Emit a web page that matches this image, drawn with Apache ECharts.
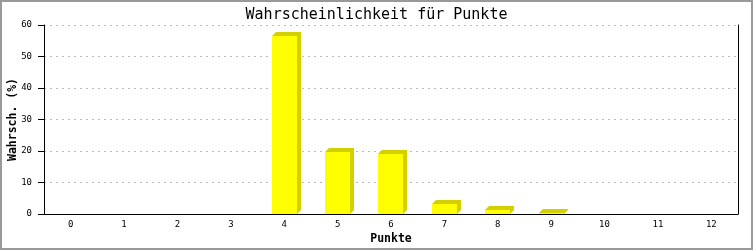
<!DOCTYPE html>
<html>
<head>
<meta charset="utf-8">
<script src="https://cdn.jsdelivr.net/npm/echarts@6/dist/echarts.min.js"></script>
<style>
html,body{margin:0;padding:0;background:#fff;}
#c{width:753px;height:250px;}
</style>
</head>
<body>
<div id="c"></div>
<script>
var categories = ['0','1','2','3','4','5','6','7','8','9','10','11','12'];
var values = [0, 0, 0, 0, 56.6, 19.7, 19.1, 3.2, 1.3, 0.3, 0, 0, 0];
var yTicks = [0, 10, 20, 30, 40, 50, 60];
var titleText = 'Wahrscheinlichkeit für Punkte';
var xName = 'Punkte';
var yName = 'Wahrsch. (%)';

var mono = 'DejaVu Sans Mono';
var chart = echarts.init(document.getElementById('c'), null, {renderer: 'canvas'});

function renderBar(params, api) {
  var idx = api.value(0);
  var val = api.value(1);
  var top = api.coord([idx, val]);
  var base = api.coord([idx, 0]);
  var band = api.size([1, 0])[0];
  var w = Math.round(band * 0.47);
  var x = Math.round(top[0] - w / 2);
  var yt = Math.round(top[1]);
  var yb = Math.round(base[1]);
  var d = 4;
  if (val <= 0) return {type: 'group', children: []};
  return {
    type: 'group',
    children: [
      {
        type: 'polygon',
        shape: {points: [[x, yt], [x + d, yt - d], [x + w + d, yt - d], [x + w + d, yb - d], [x + w, yb]]},
        style: {fill: '#d4d000'}
      },
      {
        type: 'rect',
        shape: {x: x, y: yt, width: w, height: yb - yt},
        style: {fill: '#ffff00'}
      }
    ]
  };
}

var option = {
  backgroundColor: '#ffffff',
  animation: false,
  title: {
    text: titleText,
    left: 'center',
    top: 3,
    textStyle: {fontFamily: mono, fontSize: 15, fontWeight: 'normal', color: '#000'}
  },
  graphic: [{
    type: 'rect',
    shape: {x: 1, y: 1, width: 751, height: 248},
    style: {fill: 'none', stroke: '#999', lineWidth: 2},
    silent: true
  }],
  grid: {left: 44, right: 15, top: 25, bottom: 36, containLabel: false, outerBoundsMode: 'none'},
  xAxis: {
    type: 'category',
    data: categories,
    boundaryGap: true,
    name: xName,
    nameLocation: 'middle',
    nameGap: 19,
    nameMoveOverlap: false,
    nameTextStyle: {fontFamily: mono, fontSize: 11.5, fontWeight: 'bold', color: '#000'},
    axisLine: {show: true, lineStyle: {color: '#000', width: 1}},
    axisTick: {show: false},
    axisLabel: {fontFamily: mono, fontSize: 9, color: '#000', margin: 6},
    splitLine: {show: false}
  },
  yAxis: [{
    type: 'value',
    min: yTicks[0],
    max: yTicks[yTicks.length - 1],
    interval: 10,
    name: yName,
    nameLocation: 'middle',
    nameGap: 25,
    nameMoveOverlap: false,
    nameTextStyle: {fontFamily: mono, fontSize: 11.5, fontWeight: 'bold', color: '#000'},
    axisLine: {show: true, lineStyle: {color: '#000', width: 1}},
    axisTick: {show: true, length: 6, lineStyle: {color: '#000'}},
    axisLabel: {fontFamily: mono, fontSize: 9, color: '#000', margin: 12},
    splitLine: {show: true, lineStyle: {color: '#bbb', type: [2, 4]}}
  }, {
    type: 'value',
    position: 'right',
    min: yTicks[0],
    max: yTicks[yTicks.length - 1],
    interval: 10,
    axisLine: {show: true, onZero: false, lineStyle: {color: '#000', width: 1}},
    axisTick: {show: false},
    axisLabel: {show: false},
    splitLine: {show: false}
  }],
  series: [{
    type: 'custom',
    renderItem: renderBar,
    data: values.map(function (v, i) { return [i, v]; }),
    encode: {x: 0, y: 1},
    clip: false
  }]
};
chart.setOption(option);
</script>
</body>
</html>
